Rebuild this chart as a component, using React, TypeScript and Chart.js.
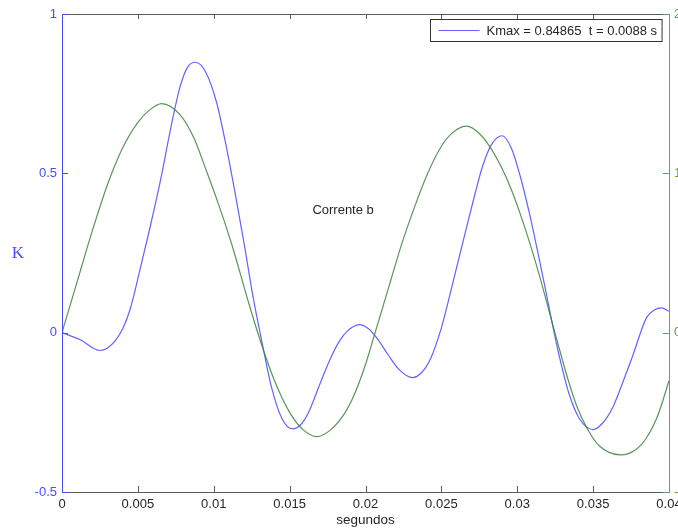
import React, { useEffect, useRef } from "react";
import { Chart, registerables } from "chart.js";

Chart.register(...registerables);

// K factor (left axis) sampled over time, seconds
const kTime = [
  0, 0.0012, 0.0025, 0.003, 0.0035, 0.004, 0.0045, 0.0051, 0.0058, 0.0065, 0.0072,
  0.0078, 0.0083, 0.0088, 0.0095, 0.0102, 0.0108, 0.0114, 0.012, 0.0126, 0.0132,
  0.0138, 0.0145, 0.0152, 0.0158, 0.0163, 0.017, 0.0177, 0.0183, 0.0188, 0.0196,
  0.0202, 0.0208, 0.0215, 0.0222, 0.0231, 0.0237, 0.0243, 0.025, 0.0258, 0.0265,
  0.0271, 0.0277, 0.0283, 0.029, 0.0296, 0.0302, 0.0308, 0.0313, 0.0318, 0.0323,
  0.0328, 0.0334, 0.0341, 0.035, 0.0356, 0.0363, 0.037, 0.03765, 0.0382, 0.03853,
  0.039, 0.03952, 0.04,
];
const kValues = [
  0, -0.022, -0.056, -0.048, -0.026, 0.012, 0.075, 0.19, 0.33, 0.48, 0.65,
  0.775, 0.835, 0.84865, 0.815, 0.72, 0.59, 0.44, 0.28, 0.11, -0.035,
  -0.17, -0.27, -0.302, -0.285, -0.245, -0.16, -0.08, -0.025, 0.005, 0.025,
  0.012, -0.02, -0.07, -0.115, -0.141, -0.125, -0.08, 0.015, 0.165, 0.3,
  0.414, 0.52, 0.59, 0.618, 0.58, 0.49, 0.375, 0.265, 0.15, 0.03,
  -0.08, -0.19, -0.27, -0.304, -0.285, -0.234, -0.15, -0.067, 0.01, 0.048,
  0.07, 0.0775, 0.067,
];

// Phase b current (right axis)
const currentTime = [
  0, 0.001, 0.002, 0.003, 0.004, 0.005, 0.0058, 0.00657, 0.0078, 0.0087, 0.0095,
  0.0103, 0.0112, 0.0122, 0.013, 0.014, 0.015, 0.0159, 0.0168, 0.0177, 0.0186,
  0.0193, 0.02, 0.0206, 0.0212, 0.0217, 0.0224, 0.0232, 0.0241, 0.025, 0.0258,
  0.02667, 0.0275, 0.0282, 0.029, 0.0296, 0.03018, 0.0308, 0.03146, 0.032, 0.0326,
  0.0333, 0.03392, 0.0346, 0.0354, 0.03681, 0.0378, 0.03853, 0.0393, 0.04,
];
const currentValues = [
  0, 0.32, 0.64, 0.93, 1.16, 1.32, 1.4, 1.438, 1.365, 1.22, 1.02,
  0.81, 0.55, 0.22, -0.03, -0.3, -0.5, -0.61, -0.652, -0.61, -0.51,
  -0.38, -0.2, -0.01, 0.18, 0.34, 0.56, 0.78, 1.0, 1.17, 1.26,
  1.296, 1.25, 1.166, 1.03, 0.9, 0.75, 0.57, 0.36, 0.17, -0.04,
  -0.28, -0.46, -0.6, -0.71, -0.767, -0.735, -0.658, -0.51, -0.302,
];

const xTickValues = [0, 0.005, 0.01, 0.015, 0.02, 0.025, 0.03, 0.035, 0.04];
const xTickLabels = ["0", "0.005", "0.01", "0.015", "0.02", "0.025", "0.03", "0.035", "0.04"];
const kTickValues = [-0.5, 0, 0.5, 1];
const kTickLabels = ["-0.5", "0", "0.5", "1"];
const currentTickValues = [-1, 0, 1, 2];
const currentTickLabels = ["-1", "0", "1", "2"];

const legendText = "Kmax = 0.84865  t = 0.0088 s";
const noteText = "Corrente b";
const noteX = 0.0165;
const noteY = 0.383;
const xTitle = "segundos";
const kTitle = "K";

const SANS = "'Liberation Sans', Arial, Helvetica, sans-serif";
const kColor = "#4a4aff";
const kLine = "rgba(70,70,255,0.85)";
const iAxisColor = "#5aa85a";
const iLabelColor = "#6a9a3a";
const iLine = "rgba(60,130,60,0.85)";
const frameColor = "#5a5a5a";
const textColor = "#262626";

const decorations = {
  id: "decorations",
  afterDraw(chart: any) {
    const ctx = chart.ctx as CanvasRenderingContext2D;
    const { left, right, top, bottom } = chart.chartArea;
    const sx = chart.scales.x;
    const sk = chart.scales.yK;
    const si = chart.scales.yI;
    const seg = (x1: number, y1: number, x2: number, y2: number) => {
      ctx.beginPath();
      ctx.moveTo(x1, y1);
      ctx.lineTo(x2, y2);
      ctx.stroke();
    };
    ctx.save();
    ctx.lineWidth = 1;

    // top and bottom frame with inward ticks
    ctx.strokeStyle = frameColor;
    seg(left, top + 0.5, right, top + 0.5);
    seg(left, bottom + 0.5, right, bottom + 0.5);
    xTickValues.forEach((v) => {
      const px = Math.round(sx.getPixelForValue(v)) + 0.5;
      seg(px, bottom, px, bottom - 6);
      seg(px, top, px, top + 5);
    });

    // left axis (K)
    ctx.strokeStyle = kColor;
    seg(left + 0.5, top, left + 0.5, bottom + 1);
    kTickValues.forEach((v) => {
      const py = Math.round(sk.getPixelForValue(v)) + 0.5;
      seg(left, py, left + 6, py);
    });

    // right axis (current)
    ctx.strokeStyle = iAxisColor;
    seg(right + 0.5, top, right + 0.5, bottom + 1);
    currentTickValues.forEach((v) => {
      const py = Math.round(si.getPixelForValue(v)) + 0.5;
      seg(right, py, right - 6, py);
    });

    // legend
    ctx.font = `13px ${SANS}`;
    const tw = ctx.measureText(legendText).width;
    const bw = 56 + tw + 5;
    const bh = 22;
    const bx = Math.round(right - 7 - bw) + 0.5;
    const by = top + 5.5;
    ctx.fillStyle = "#ffffff";
    ctx.fillRect(bx, by, bw, bh);
    ctx.strokeStyle = "#333333";
    ctx.strokeRect(bx, by, bw, bh);
    ctx.strokeStyle = kLine;
    ctx.lineWidth = 1.2;
    seg(bx + 8, by + bh / 2, bx + 49, by + bh / 2);
    ctx.fillStyle = textColor;
    ctx.textAlign = "left";
    ctx.textBaseline = "middle";
    ctx.fillText(legendText, bx + 56, by + bh / 2 + 0.5);

    // annotation
    ctx.font = `13px ${SANS}`;
    ctx.fillStyle = textColor;
    ctx.fillText(noteText, sx.getPixelForValue(noteX), sk.getPixelForValue(noteY));

    // axis titles
    ctx.textAlign = "center";
    ctx.font = `13.5px ${SANS}`;
    ctx.fillText(xTitle, (left + right) / 2, 520);
    ctx.fillStyle = kColor;
    ctx.font = `17px 'Liberation Serif', 'Times New Roman', serif`;
    ctx.fillText(kTitle, 18, (top + bottom) / 2 + 1);

    ctx.restore();
  },
};

export default function App() {
  const ref = useRef<HTMLCanvasElement | null>(null);

  useEffect(() => {
    if (!ref.current) return;
    const tickFont = { family: SANS, size: 13 };
    const chart = new Chart(ref.current, {
      type: "line",
      data: {
        datasets: [
          {
            label: legendText,
            data: kTime.map((t, i) => ({ x: t, y: kValues[i] })),
            yAxisID: "yK",
            borderColor: kLine,
            borderWidth: 1.2,
            pointRadius: 0,
            cubicInterpolationMode: "monotone",
            fill: false,
            order: 2,
          },
          {
            label: "Corrente b",
            data: currentTime.map((t, i) => ({ x: t, y: currentValues[i] })),
            yAxisID: "yI",
            borderColor: iLine,
            borderWidth: 1.2,
            pointRadius: 0,
            cubicInterpolationMode: "monotone",
            fill: false,
            order: 1,
          },
        ],
      },
      options: {
        responsive: false,
        animation: false,
        events: [],
        layout: { padding: { top: 14, left: 0, right: 0, bottom: 0 } },
        plugins: { legend: { display: false }, tooltip: { enabled: false } },
        scales: {
          x: {
            type: "linear",
            min: 0,
            max: 0.04,
            grid: { display: false, drawTicks: false },
            border: { display: false },
            afterBuildTicks: (s: any) => {
              s.ticks = xTickValues.map((value) => ({ value }));
            },
            ticks: {
              autoSkip: false,
              maxRotation: 0,
              padding: 5,
              color: textColor,
              font: tickFont,
              callback: (_v: any, i: number) => xTickLabels[i],
            },
            afterFit: (s: any) => {
              s.height = 37;
              s.paddingLeft = 0;
              s.paddingRight = 0;
            },
          },
          yK: {
            axis: "y",
            type: "linear",
            position: "left",
            min: -0.5,
            max: 1,
            grid: { display: false, drawTicks: false },
            border: { display: false },
            afterBuildTicks: (s: any) => {
              s.ticks = kTickValues.map((value) => ({ value }));
            },
            ticks: {
              padding: 5,
              color: kColor,
              font: tickFont,
              callback: (_v: any, i: number) => kTickLabels[i],
            },
            afterFit: (s: any) => {
              s.width = 62;
              s.paddingTop = 0;
              s.paddingBottom = 0;
            },
          },
          yI: {
            axis: "y",
            type: "linear",
            position: "right",
            min: -1,
            max: 2,
            grid: { display: false, drawTicks: false },
            border: { display: false },
            afterBuildTicks: (s: any) => {
              s.ticks = currentTickValues.map((value) => ({ value }));
            },
            ticks: {
              padding: 5,
              color: iLabelColor,
              font: tickFont,
              callback: (_v: any, i: number) => currentTickLabels[i],
            },
            afterFit: (s: any) => {
              s.width = 9;
              s.paddingTop = 0;
              s.paddingBottom = 0;
            },
          },
        },
      } as any,
      plugins: [decorations],
    });
    return () => chart.destroy();
  }, []);

  return (
    <canvas
      ref={ref}
      width={678}
      height={529}
      style={{ position: "fixed", left: 0, top: 0, display: "block", background: "#fff" }}
    />
  );
}
